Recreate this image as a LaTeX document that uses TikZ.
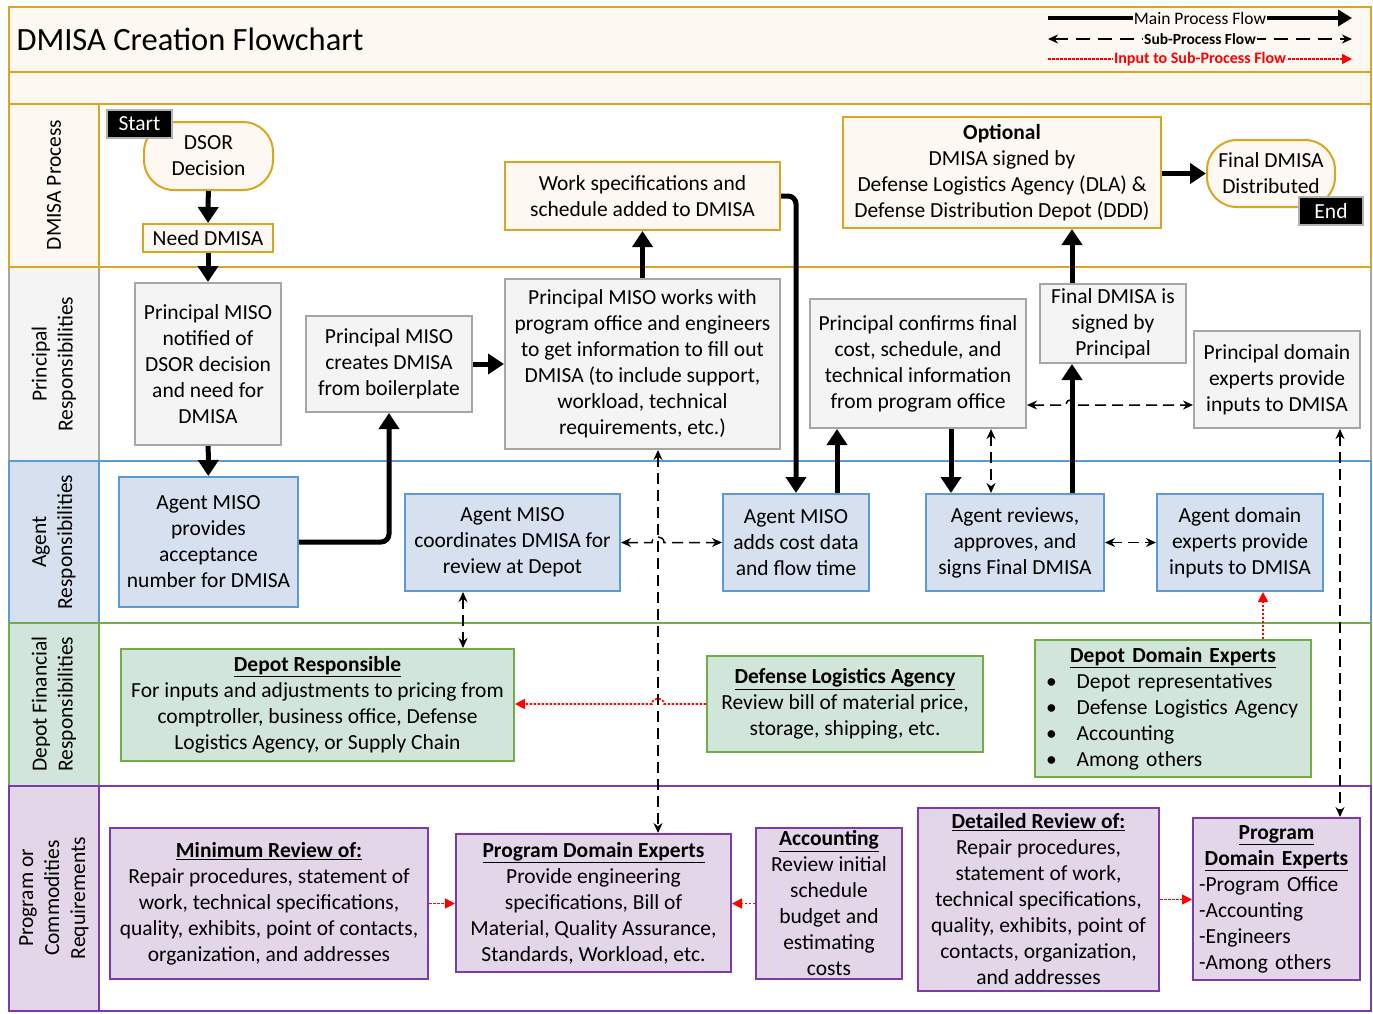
\documentclass[tikz,border=0pt]{standalone}
\usepackage{fontspec}
\setmainfont{Carlito}
\usetikzlibrary{arrows.meta,positioning,calc}
\definecolor{gold}{RGB}{218,165,32}
\definecolor{cream}{RGB}{254,248,242}
\definecolor{gline}{RGB}{166,166,166}
\definecolor{gfill}{RGB}{244,244,244}
\definecolor{bline}{RGB}{91,155,213}
\definecolor{bfill}{RGB}{214,224,238}
\definecolor{grline}{RGB}{112,173,71}
\definecolor{grfill}{RGB}{210,229,219}
\definecolor{pline}{RGB}{124,58,170}
\definecolor{pfill}{RGB}{226,214,232}
\tikzset{
  procbox/.style={draw,line width=2pt,align=center,inner sep=2pt},
  goldbox/.style={procbox,draw=gold,fill=cream},
  graybox/.style={procbox,draw=gline,fill=gfill},
  bluebox/.style={procbox,draw=bline,fill=bfill},
  greenbox/.style={procbox,draw=grline,fill=grfill},
  purpbox/.style={procbox,draw=pline,fill=pfill},
  termbox/.style={goldbox,rounded corners=30pt},
  tagbox/.style={draw=gray!60,line width=2.5pt,fill=black,text=white,inner sep=2pt},
  mainflow/.style={line width=5pt,-{Triangle[length=16pt,width=20pt]}},
  subflow/.style={line width=1.5pt,dash pattern=on 11pt off 6pt,
    {Stealth[length=10pt,width=9pt]}-{Stealth[length=10pt,width=9pt]}},
  inp/.style={red,line width=1.6pt,dash pattern=on 2.5pt off 1.5pt,-{Triangle[length=10pt,width=10pt]}},
  lanehead/.style={rotate=90,align=center},
  lgtext/.style={fill=cream,inner sep=1pt},
}

\begin{document}
\begin{tikzpicture}[x=1pt,y=-1pt,font=\fontsize{21.5}{26}\selectfont]
  \useasboundingbox (0,0) rectangle (1373,1013);
  % title bands
  \draw[gold,line width=2pt,fill=cream] (9,7) rectangle (1371,72);
  \draw[gold,line width=2pt,fill=cream] (9,72) rectangle (1371,104);
  \node[anchor=west,font=\fontsize{32.5}{38}\selectfont] (title) at (13,39) {DMISA Creation Flowchart};
  % lanes
  \foreach \ya/\yb/\c/\f in {267/461/gline/gfill,104/267/gold/cream,461/623/bline/bfill,
      623/786/grline/grfill,786/1011/pline/pfill}{
    \draw[\c,line width=2pt,fill=white] (9,\ya) rectangle (1371,\yb);
    \draw[\c,line width=2pt,fill=\f] (9,\ya) rectangle (99,\yb);
  }
  \node[lanehead] (l1) at (54,185) {DMISA Process};
  \node[lanehead] (l2) at (54,364) {Principal\\Responsibilities};
  \node[lanehead] (l3) at (54,542) {Agent\\Responsibilities};
  \node[lanehead] (l4) at (54,704) {Depot Financial\\Responsibilities};
  \node[lanehead] (l5) at (54,898) {Program or\\Commodities\\Requirements};

  % legend
  \coordinate (lgA1) at (1048,18); \coordinate (lgB1) at (1352,18);
  \coordinate (lgA2) at (1048,39); \coordinate (lgB2) at (1352,39);
  \coordinate (lgA3) at (1048,59); \coordinate (lgB3) at (1352,59);
  \draw[line width=4pt,-{Triangle[length=14pt,width=16pt]}] (lgA1) -- (lgB1)
    node[midway,lgtext,font=\fontsize{17.5}{20}\selectfont] {Main Process Flow};
  \draw[subflow,dash pattern=on 14pt off 8pt] (lgA2) -- (lgB2)
    node[midway,lgtext,font={\fontsize{15.5}{18}\selectfont\bfseries}] {Sub-Process Flow};
  \draw[inp] (lgA3) -- (lgB3)
    node[midway,lgtext,text=red,font={\fontsize{16}{18}\selectfont\bfseries}] {Input to Sub-Process Flow};

  % DMISA process lane
  \node[termbox,minimum width=129pt,minimum height=68pt] (dsor) at (208.5,156) {DSOR\\Decision};
  \node[tagbox,minimum width=65pt,minimum height=28pt] (start) at (139.5,124) {Start};
  \node[goldbox,minimum width=130pt,minimum height=28pt] (need) at (208,238) {Need DMISA};
  \node[goldbox,minimum width=275pt,minimum height=68pt] (wspec) at (642.5,196)
    {Work specifications and\\schedule added to DMISA};
  \node[goldbox,minimum width=318pt,minimum height=111pt] (optional) at (1002,172.5)
    {\textbf{Optional}\\DMISA signed by\\Defense Logistics Agency (DLA) \&\\Defense Distribution Depot (DDD)};
  \node[termbox,minimum width=128pt,minimum height=67pt] (final) at (1271,173.5) {Final DMISA\\Distributed};
  \node[tagbox,minimum width=64pt,minimum height=28pt] (end) at (1331,211) {End};

  % principal lane
  \node[graybox,minimum width=146pt,minimum height=162pt] (notif) at (208,364)
    {Principal MISO\\notified of\\DSOR decision\\and need for\\DMISA};
  \node[graybox,minimum width=166pt,minimum height=96pt] (create) at (389,364)
    {Principal MISO\\creates DMISA\\from boilerplate};
  \node[graybox,minimum width=275pt,minimum height=170pt] (works) at (642.5,364)
    {Principal MISO works with\\program office and engineers\\to get information to fill out\\DMISA (to include support,\\workload, technical\\requirements, etc.)};
  \node[graybox,minimum width=216pt,minimum height=129pt] (confirm) at (918,363.5)
    {Principal confirms final\\cost, schedule, and\\technical information\\from program office};
  \node[graybox,minimum width=146pt,minimum height=79pt] (signed) at (1113,323.5)
    {Final DMISA is\\signed by\\Principal};
  \node[graybox,minimum width=166pt,minimum height=97pt] (pdomain) at (1277,379.5)
    {Principal domain\\experts provide\\inputs to DMISA};

  % agent lane
  \node[bluebox,minimum width=179pt,minimum height=130pt] (accept) at (208.5,542)
    {Agent MISO\\provides\\acceptance\\number for DMISA};
  \node[bluebox,minimum width=215pt,minimum height=97pt] (coord) at (512.5,542.5)
    {Agent MISO\\coordinates DMISA for\\review at Depot};
  \node[bluebox,minimum width=146pt,minimum height=97pt] (cost) at (796,542.5)
    {Agent MISO\\adds cost data\\and flow time};
  \node[bluebox,minimum width=178pt,minimum height=97pt] (review) at (1015,542.5)
    {Agent reviews,\\approves, and\\signs Final DMISA};
  \node[bluebox,minimum width=166pt,minimum height=97pt] (adomain) at (1240,542.5)
    {Agent domain\\experts provide\\inputs to DMISA};

  % depot financial lane
  \node[greenbox,minimum width=393pt,minimum height=112pt] (deporesp) at (317.5,705)
    {\underline{\textbf{Depot Responsible}}\\For inputs and adjustments to pricing from\\comptroller, business office, Defense\\Logistics Agency, or Supply Chain};
  \node[greenbox,minimum width=276pt,minimum height=96pt] (dla) at (845,704)
    {\underline{\textbf{Defense Logistics Agency}}\\Review bill of material price,\\storage, shipping, etc.};
  \node[greenbox,minimum width=276pt,minimum height=137pt,text width=268pt,align=left] (dde) at (1173,708.5)
    {\makebox[268pt]{\underline{\textbf{Depot Domain Experts}}}\\
     \hspace*{7pt}\textbullet\hspace{20pt}Depot representatives\\
     \hspace*{7pt}\textbullet\hspace{20pt}Defense Logistics Agency\\
     \hspace*{7pt}\textbullet\hspace{20pt}Accounting\\
     \hspace*{7pt}\textbullet\hspace{20pt}Among others};

  % program lane
  \node[purpbox,minimum width=318pt,minimum height=151pt] (minrev) at (269,903.5)
    {\underline{\textbf{Minimum Review of:}}\\Repair procedures, statement of\\work, technical specifications,\\quality, exhibits, point of contacts,\\organization, and addresses};
  \node[purpbox,minimum width=275pt,minimum height=138pt] (pde) at (593.5,903)
    {\underline{\textbf{Program Domain Experts}}\\Provide engineering\\specifications, Bill of\\Material, Quality Assurance,\\Standards, Workload, etc.};
  \node[purpbox,minimum width=146pt,minimum height=151pt] (acct) at (829,903.5)
    {\underline{\textbf{Accounting}}\\Review initial\\schedule\\budget and\\estimating\\costs};
  \node[purpbox,minimum width=241pt,minimum height=183pt] (detrev) at (1038.5,899.5)
    {\underline{\textbf{Detailed Review of:}}\\Repair procedures,\\statement of work,\\technical specifications,\\quality, exhibits, point of\\contacts, organization,\\and addresses};
  \node[purpbox,minimum width=167pt,minimum height=162pt,text width=155pt,align=left] (progde) at (1276.5,899)
    {\makebox[155pt]{\underline{\textbf{Program}}}\\
     \makebox[155pt]{\underline{\textbf{Domain Experts}}}\\
     -Program Office\\-Accounting\\-Engineers\\-Among others};

  % main process flow
  \draw[mainflow] (dsor) -- (need);
  \draw[mainflow] (need) -- (notif);
  \draw[mainflow] (notif) -- (accept);
  \draw[mainflow,rounded corners=8pt] (accept.east) -| (create.south);
  \draw[mainflow] (create.east) -- (works.west);
  \draw[mainflow] (works.north) -- (wspec.south);
  \draw[mainflow,rounded corners=8pt] (wspec.east) -| (cost.north);
  \draw[mainflow] ([xshift=41pt]cost.north) -- ([xshift=41pt]cost.north |- confirm.south);
  \draw[mainflow] ([xshift=33pt]confirm.south) -- ([xshift=33pt]confirm.south |- review.north);
  \draw[mainflow] ([xshift=-41pt]signed.south |- review.north) -- ([xshift=-41pt]signed.south);
  \draw[mainflow] ([xshift=-41pt]signed.north) -- ([xshift=-41pt]signed.north |- optional.south);
  \draw[mainflow] (optional.east |- final.west) -- (final.west);

  % sub-process flow
  \coordinate (vx) at ([xshift=15.5pt]works.south);
  \coordinate (pdin) at ([yshift=-25.5pt]pdomain.west);
  \draw[subflow] (vx) -- (vx |- pde.north);
  \draw[subflow] (coord.east) -- ($(coord.east -| vx)+(-6,0)$)
    to[out=90,in=90,looseness=1.6] ($(coord.east -| vx)+(6,0)$) -- (cost.west);
  \draw[subflow] ([xshift=-49.5pt]coord.south) -- ([xshift=-49.5pt]coord.south |- deporesp.north);
  \draw[subflow] ([xshift=73pt]confirm.south) -- ([xshift=73pt]confirm.south |- review.north);
  \draw[subflow] (confirm.east |- pdin) -- ($(signed.south |- pdin)+(-47,0)$)
    to[out=90,in=90,looseness=1.6] ($(signed.south |- pdin)+(-35,0)$) -- (pdin);
  \draw[subflow] (review.east) -- (adomain.west);
  \draw[subflow] ([xshift=63pt]pdomain.south) -- ([xshift=63pt]pdomain.south |- progde.north);

  % inputs to sub-process
  \draw[inp] (dla.west) -- ($(dla.west -| vx)+(6,0)$)
    to[out=90,in=90,looseness=1.6] ($(dla.west -| vx)+(-6,0)$) -- (deporesp.east |- dla.west);
  \draw[inp] ([xshift=23pt]adomain.south |- dde.north) -- ([xshift=23pt]adomain.south);
  \draw[inp] (minrev.east) -- (pde.west |- minrev.east);
  \draw[inp] (acct.west) -- (pde.east |- acct.west);
  \draw[inp] (detrev.east) -- (progde.west |- detrev.east);
\end{tikzpicture}
\end{document}
